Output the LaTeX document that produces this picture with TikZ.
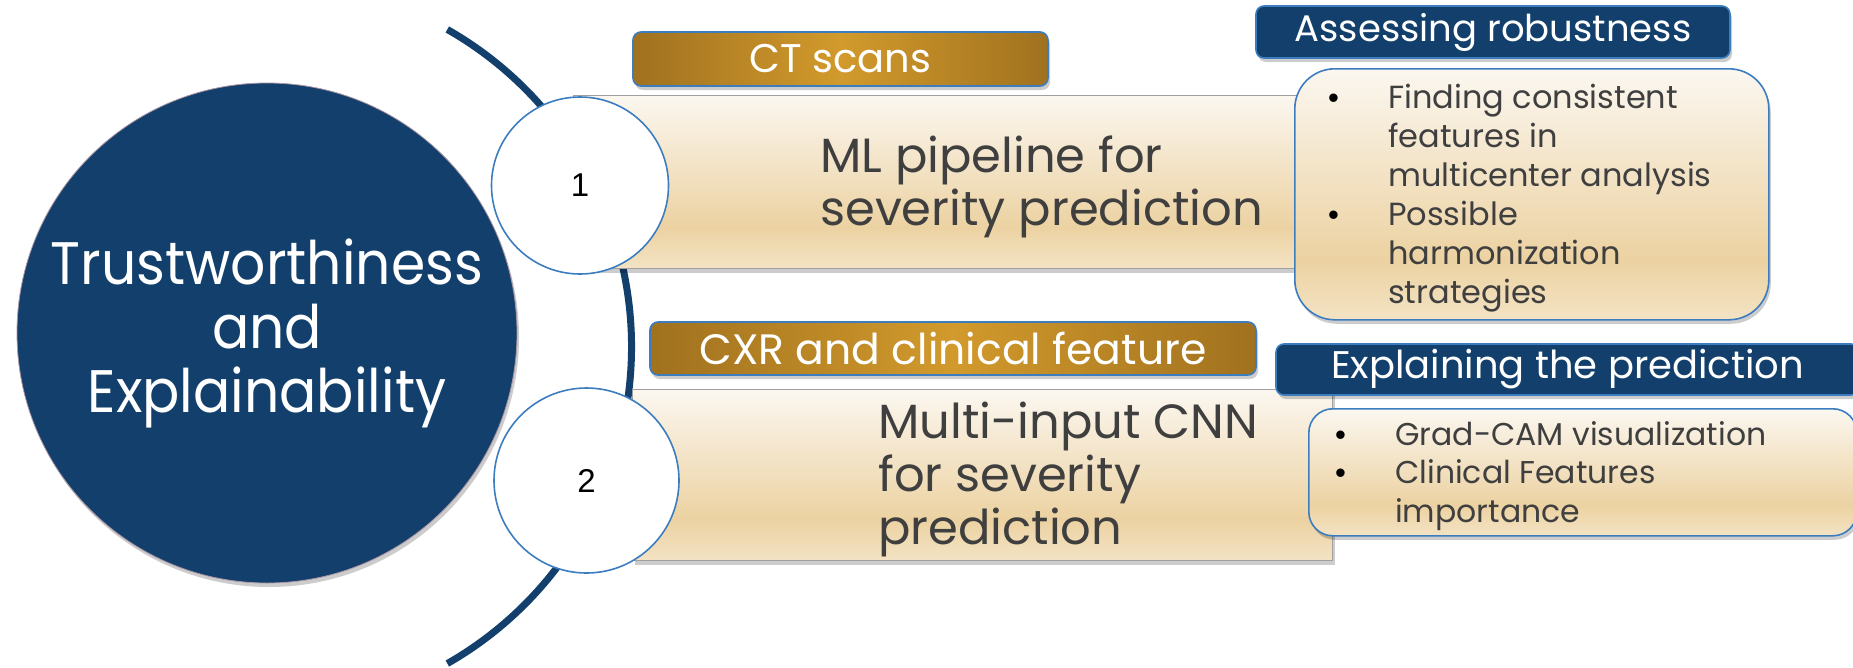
\documentclass[tikz,border=0pt]{standalone}
\usepackage{fontspec}
\setmainfont{Poppins}
\newfontfamily\numfont{Liberation Sans}
\newfontfamily\hubfont[FakeStretch=0.92]{Poppins}
\usetikzlibrary{shadows}

\definecolor{navy}{HTML}{123F6B}
\definecolor{edgeblue}{HTML}{3C7DC0}
\definecolor{goldE}{HTML}{A0711F}
\definecolor{goldC}{HTML}{D29A2C}
\definecolor{creamT}{HTML}{FBF7F0}
\definecolor{creamD}{HTML}{ECD2A2}
\definecolor{creamB}{HTML}{F3E3C4}
\definecolor{inkgray}{HTML}{3F3F3F}
\definecolor{rimgray}{HTML}{A0A0A0}

% gold band: dark at the ends, bright in the middle
\pgfdeclarehorizontalshading{goldband}{100bp}{color(0bp)=(goldE); color(25bp)=(goldE); color(50bp)=(goldC); color(75bp)=(goldE); color(100bp)=(goldE)}
% cream band: pale at the top, deepest a quarter above the bottom
\pgfdeclareverticalshading{creamband}{100bp}{color(0bp)=(creamB); color(25bp)=(creamB); color(37bp)=(creamD); color(75bp)=(creamT); color(100bp)=(creamT)}

\tikzset{
  softshadow/.style={drop shadow={shadow xshift=2pt, shadow yshift=-4pt, opacity=0.2, fill=black}},
  hub/.style={circle, fill=navy, draw=navy!70!red!50, line width=0.8pt, minimum size=500pt, inner sep=0pt,
    text=white, align=center, font=\hubfont\fontsize{60}{64}\selectfont, softshadow},
  ring/.style={draw=navy, line width=7pt},
  numdisc/.style={circle, fill=white, draw=edgeblue, line width=1.6pt, inner sep=0pt,
    font=\numfont\fontsize{33}{36}\selectfont},
  panel/.style={rectangle, shading=creamband, draw=rimgray, line width=1pt, inner sep=0pt, softshadow},
  tag/.style={rectangle, rounded corners=8pt, shading=goldband, draw=edgeblue, line width=1.6pt,
    text=white, inner sep=0pt, softshadow},
  header/.style={rectangle, rounded corners=8pt, fill=navy, draw=edgeblue, line width=1.6pt,
    text=white, inner sep=0pt, softshadow},
  notes/.style={rectangle, shading=creamband, draw=edgeblue, line width=1.6pt, inner sep=0pt, softshadow},
  paneltext/.style={anchor=base west, inner sep=0pt, align=left, text=inkgray,
    font=\fontsize{48}{53}\selectfont},
  notetext/.style={anchor=base west, inner sep=0pt, align=left, text=inkgray,
    font=\fontsize{32}{39}\selectfont},
}
\newcommand{\blt}{\makebox[60pt][l]{\textcolor{black}{\numfont\fontsize{31}{31}\selectfont•}}}
\newcommand{\hang}{\hspace*{60pt}}

\begin{document}
\begin{tikzpicture}[x=1pt, y=-1pt]
\useasboundingbox (0,0) rectangle (1853,667);

% central hub
\node[hub] (hub) at (267,333) {Trustworthiness\\and\\Explainability};

% ring around the hub
\draw[ring] (266.5,346.5) ++(-60.3:365) arc[start angle=-60.3, end angle=60.3, radius=365];

% first branch
\node[panel, minimum width=727pt, minimum height=173pt, anchor=north west] (p1) at (573,95) {};
\node[tag, minimum width=415pt, minimum height=54pt, font=\fontsize{40}{44}\selectfont] (t1) at (840.5,59) {CT scans};
\node[paneltext] (p1text) at (820,225) {ML pipeline for\\severity prediction};
\node[numdisc, minimum size=177pt] (n1) at (580,185.5) {1};

\node[header, minimum width=474pt, minimum height=52pt, font=\fontsize{37}{42}\selectfont] (h1) at (1493,32) {Assessing robustness};
\node[notes, rounded corners=40pt, minimum width=474pt, minimum height=251pt, anchor=north west] (b1) at (1294,68) {};
\node[notetext] (b1text) at (1328,303) {\blt Finding consistent\\\hang features in\\\hang multicenter analysis\\\blt Possible\\\hang harmonization\\\hang strategies};

% second branch
\node[panel, minimum width=700pt, minimum height=171pt, anchor=north west] (p2) at (632,389) {};
\node[tag, minimum width=606pt, minimum height=53pt, font=\fontsize{42.5}{46}\selectfont] (t2) at (953,348.5) {CXR and clinical feature};
\node[paneltext] (p2text) at (878,544) {Multi-input CNN\\for severity\\prediction};
\node[numdisc, minimum size=185pt] (n2) at (586.5,480.5) {2};

\node[header, minimum width=583pt, minimum height=51pt, font=\fontsize{38.5}{42}\selectfont] (h2) at (1567.5,369.5) {Explaining the prediction};
\node[notes, rounded corners=24pt, minimum width=548pt, minimum height=127pt, anchor=north west] (b2) at (1308,408) {};
\node[notetext, font=\fontsize{31.5}{38.5}\selectfont] (b2text) at (1335,522) {\blt Grad-CAM visualization\\\blt Clinical Features\\\hang importance};
\end{tikzpicture}
\end{document}
